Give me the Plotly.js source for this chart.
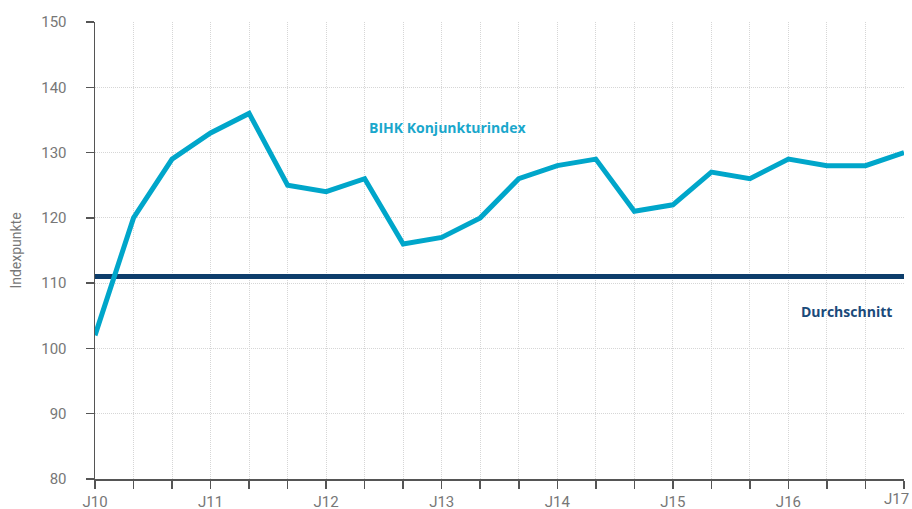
<!DOCTYPE html>
<html>
<head>
<meta charset="utf-8">
<script src="https://cdn.plot.ly/plotly-3.0.1.min.js"></script>
<style>html,body{margin:0;padding:0;background:#fff;}#chart{width:912px;height:509px;}</style>
</head>
<body>
<div id="chart"></div>
<script>
const periods = [0,1,2,3,4,5,6,7,8,9,10,11,12,13,14,15,16,17,18,19,20,21];
const indexValues = [102,120,129,133,136,125,124,126,116,117,120,126,128,129,121,122,127,126,129,128,128,130];
const averageValue = 111;
const tickLabels = ["J10","","","J11","","","J12","","","J13","","","J14","","","J15","","","J16","","","J17"];
const seriesName = "BIHK Konjunkturindex";
const averageName = "Durchschnitt";

const traces = [
  {x: [periods[0], periods[periods.length-1]], y: [averageValue, averageValue], mode: 'lines',
   line: {color: '#0d3d6b', width: 5}, hoverinfo: 'skip', cliponaxis: false},
  {x: periods, y: indexValues, mode: 'lines', line: {color: '#00a6ca', width: 5}, cliponaxis: false}
];

const lastIdx = periods.length - 1;
const annotations = [
  {x: 9.14, y: 133.8, xref: 'x', yref: 'y', text: '<b>' + seriesName + '</b>', showarrow: false,
   font: {family: '"Open Sans", sans-serif', size: 14, color: '#1aa7cc'}},
  {x: 19.5, y: 105.6, xref: 'x', yref: 'y', text: '<b>' + averageName + '</b>', showarrow: false,
   font: {family: '"Open Sans", sans-serif', size: 14, color: '#1a4a7a'}},
  {x: periods[lastIdx], y: 0, xref: 'x', yref: 'paper', xanchor: 'right', xshift: 7, yanchor: 'top', yshift: -9,
   text: tickLabels[lastIdx], showarrow: false, font: {size: 15, color: '#777'}}
];

const layout = {
  width: 912, height: 509,
  margin: {l: 95, r: 8, t: 22, b: 30},
  showlegend: false,
  paper_bgcolor: '#fff', plot_bgcolor: '#fff',
  font: {family: 'Roboto, "Open Sans", sans-serif', color: '#777', size: 15},
  xaxis: {
    range: [0, 21], tickmode: 'array', tickvals: periods, ticktext: tickLabels.map((t,i)=> i===lastIdx ? '' : t),
    showgrid: true, gridcolor: '#d6d6d6', griddash: '1px,1px', gridwidth: 1,
    ticks: 'outside', ticklen: 8, tickcolor: '#555', tickwidth: 1.5,
    showline: true, linecolor: '#555', linewidth: 1.5, zeroline: false,
    tickfont: {size: 15, color: '#777'}
  },
  yaxis: {
    range: [80, 150], tickvals: [80,90,100,110,120,130,140,150],
    showgrid: true, gridcolor: '#d6d6d6', griddash: '1px,1px', gridwidth: 1,
    ticks: 'outside', ticklen: 8, tickcolor: '#555', tickwidth: 1.5,
    showline: true, linecolor: '#555', linewidth: 1.5, zeroline: false,
    ticklabelstandoff: 16,
    tickfont: {size: 15, color: '#777'},
    title: {text: 'Indexpunkte', font: {size: 14, color: '#777'}, standoff: 16}
  },
  annotations: annotations
};

Plotly.newPlot('chart', traces, layout, {displayModeBar: false, staticPlot: true});
</script>
</body>
</html>
